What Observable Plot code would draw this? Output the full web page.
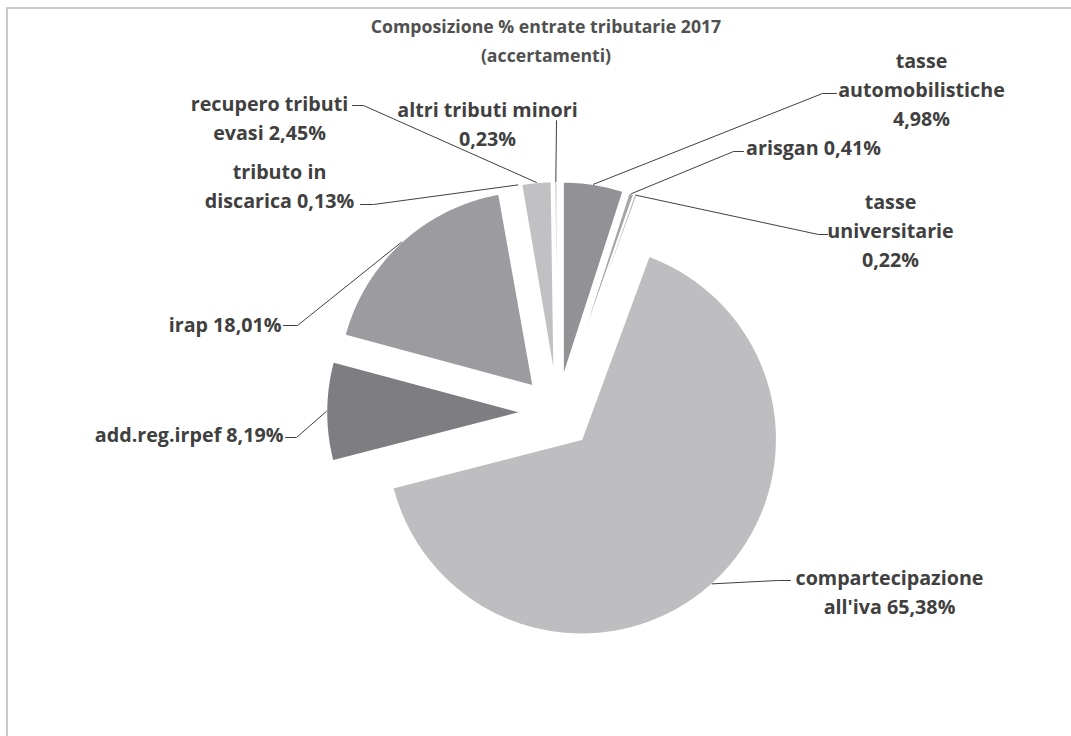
<!DOCTYPE html>
<html><head><meta charset="utf-8">
<script src="https://cdn.jsdelivr.net/npm/d3@7"></script>
<script src="https://cdn.jsdelivr.net/npm/@observablehq/plot@0.6"></script>
<style>
body{margin:0;background:#fff;}
#wrap{position:relative;width:1071px;height:736px;overflow:hidden;font-family:"Open Sans",sans-serif;}
#frame{position:absolute;left:6px;top:7px;width:1100px;height:800px;border-left:2px solid #c9c9c9;border-top:2px solid #c9c9c9;}
#title{position:absolute;left:0;width:1092px;top:12px;text-align:center;font-weight:bold;font-size:17.7px;line-height:29px;color:#505050;}
#chart{position:absolute;left:0;top:0;}
</style></head><body>
<div id="wrap"><div id="frame"></div><div id="chart"></div><div id="title">Composizione % entrate tributarie 2017<br>(accertamenti)</div></div>
<script>
// ---- data ----
const categories = ["tasse automobilistiche","arisgan","tasse universitarie","compartecipazione all'iva","add.reg.irpef","irap","tributo in discarica","recupero tributi evasi","altri tributi minori"];
const values = [4.98, 0.41, 0.22, 65.38, 8.19, 18.01, 0.13, 2.45, 0.23];
const valueLabels = ["4,98%","0,41%","0,22%","65,38%","8,19%","18,01%","0,13%","2,45%","0,23%"];

// ---- style / layout ----
const sliceColors = ["#929296","#a6a6a9","#b3b3b6","#bebec1","#7e7e82","#9c9ca0","#adadb0","#c1c1c3","#cfcfd1"];
const wrapWidth = [16, 20, 13, 17, 30, 30, 15, 16, 20];
const labelX = [921, 813, 890, 889, 283, 281, 279, 269, 487];
const labelY = [87, 145, 228, 590, 432, 322, 184, 116, 122];
const labelAnchor = ["middle","middle","middle","middle","end","end","middle","middle","middle"];
const elbowX = [822, 733, 818, 777, 296, 297, 373, 363, 556];
const elbowY = [93, 151, 234, 580, 437, 325, 204, 105, 120];
const endX = [836, 743, 827, 790, 285, 283, 360, 352, 556];
const cx = 557, cy = 412, R = 195, EXPLODE = 36;

function wrap(s, w){
  const words = s.split(" "); const lines = []; let cur = "";
  for (const wd of words){
    if (!cur) cur = wd;
    else if ((cur + " " + wd).length <= w) cur += " " + wd;
    else { lines.push(cur); cur = wd; }
  }
  if (cur) lines.push(cur);
  return lines.join("\n");
}

const arcs = d3.pie().sort(null).value(d => d)(values);
const slicePts = [], leaderPts = [], labels = [];
arcs.forEach((a, i) => {
  const name = categories[i];
  const mid = (a.startAngle + a.endAngle) / 2;
  const ox = cx + EXPLODE * Math.sin(mid), oy = cy - EXPLODE * Math.cos(mid);
  slicePts.push({name, x: ox, y: oy});
  const n = Math.max(2, Math.ceil((a.endAngle - a.startAngle) / 0.01));
  for (let k = 0; k <= n; k++) {
    const t = a.startAngle + (a.endAngle - a.startAngle) * k / n;
    slicePts.push({name, x: ox + R * Math.sin(t), y: oy - R * Math.cos(t)});
  }
  const ax = ox + R * Math.sin(mid), ay = oy - R * Math.cos(mid);
  leaderPts.push({name, x: ax, y: ay}, {name, x: elbowX[i], y: elbowY[i]}, {name, x: endX[i], y: elbowY[i]});
  labels.push({name, x: labelX[i], y: labelY[i], anchor: labelAnchor[i], text: wrap(name + " " + valueLabels[i], wrapWidth[i])});
});

const textOpts = {x: "x", y: "y", text: "text", lineAnchor: "middle", fontSize: 19.7, fontWeight: "bold", fill: "#404040", lineHeight: 1.47};
const chart = Plot.plot({
  width: 1071, height: 736, margin: 0,
  style: {fontFamily: "'Open Sans', sans-serif", background: "transparent"},
  x: {domain: [0, 1071], range: [0, 1071], axis: null},
  y: {domain: [0, 736], range: [0, 736], axis: null},
  color: {domain: categories, range: sliceColors},
  marks: [
    Plot.line(slicePts, {x: "x", y: "y", z: "name", fill: "name", stroke: "white", strokeWidth: 1.5, curve: "linear-closed"}),
    Plot.line(leaderPts, {x: "x", y: "y", z: "name", stroke: "#404040", strokeWidth: 1}),
    Plot.text(labels, {...textOpts, filter: d => d.anchor === "middle", textAnchor: "middle"}),
    Plot.text(labels, {...textOpts, filter: d => d.anchor === "end", textAnchor: "end"})
  ]
});
document.getElementById("chart").appendChild(chart);
</script>
</body></html>
